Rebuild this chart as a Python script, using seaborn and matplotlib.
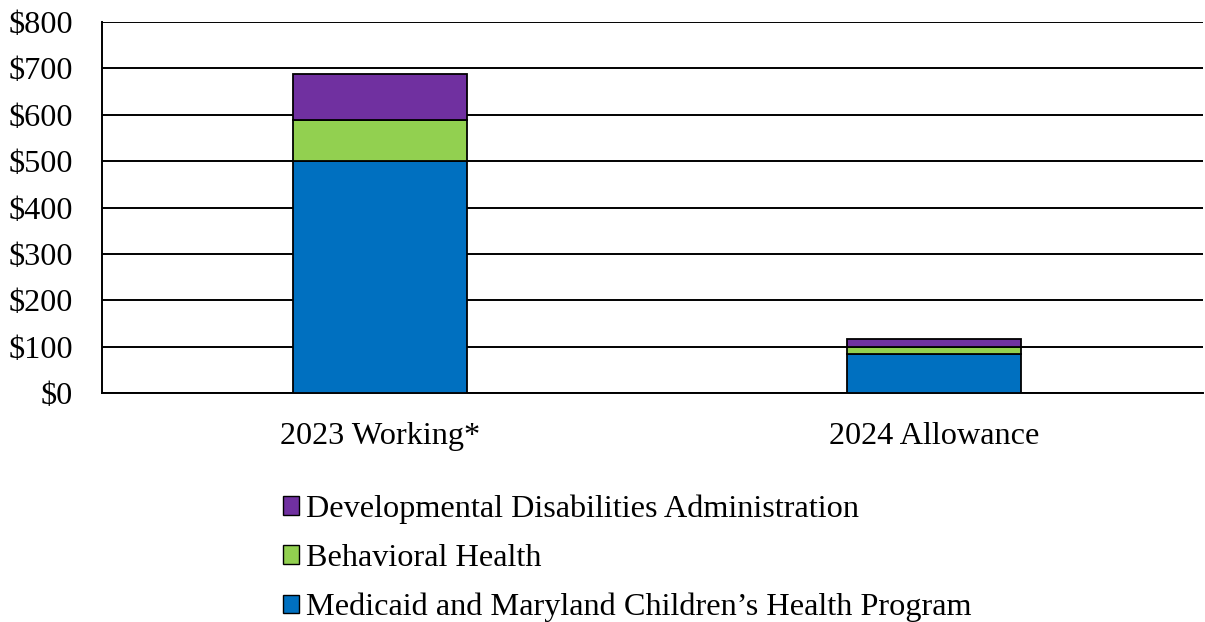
import matplotlib
matplotlib.use("Agg")
import matplotlib.pyplot as plt
import seaborn as sns
import pandas as pd
from matplotlib.patches import Patch
from matplotlib.ticker import FuncFormatter

# Spending by program ($ millions)
categories = ["2023 Working*", "2024 Allowance"]
medicaid = [501, 84]
behavioral = [88, 16]
developmental = [99, 18]
series_labels = [
    "Developmental Disabilities Administration",
    "Behavioral Health",
    "Medicaid and Maryland Children\u2019s Health Program",
]
y_ticks = [0, 100, 200, 300, 400, 500, 600, 700, 800]

colors = {"dda": "#7030A0", "bh": "#92D050", "mchp": "#0070C0"}

sns.set_theme(style="white")
plt.rcParams["font.family"] = ["Liberation Serif", "DejaVu Serif"]
plt.rcParams["text.color"] = "black"
FS = 23.2

df = pd.DataFrame({
    "category": categories,
    "medicaid": medicaid,
    "behavioral": behavioral,
    "developmental": developmental,
})

fig = plt.figure(figsize=(12.05, 6.22), dpi=100)
ax = fig.add_axes([102 / 1205, 1 - 393.3 / 622, (1203 - 102) / 1205, (393.3 - 22) / 622])

# Stack segments bottom-up
bottom = [0] * len(categories)
for col, key in [("medicaid", "mchp"), ("behavioral", "bh"), ("developmental", "dda")]:
    sns.barplot(data=df, x="category", y=col, bottom=bottom, color=colors[key],
                saturation=1, width=0.314, edgecolor="black", linewidth=1.3,
                ax=ax, zorder=3)
    bottom = [b + v for b, v in zip(bottom, df[col])]

ax.set_ylim(0, 800)
ax.set_yticks(y_ticks)
ax.yaxis.set_major_formatter(FuncFormatter(lambda v, p: f"${v:,.0f}"))
ax.set_xlim(-0.502, 1.486)
ax.set_xlabel("")
ax.set_ylabel("")
ax.grid(axis="y", color="black", linewidth=1.4, zorder=0)
ax.set_axisbelow(True)
for s in ["top", "right"]:
    ax.spines[s].set_visible(False)
ax.spines["left"].set_color("black")
ax.spines["left"].set_linewidth(1.4)
ax.spines["bottom"].set_color("black")
ax.spines["bottom"].set_linewidth(1.4)
ax.tick_params(axis="both", length=0, labelsize=FS, colors="black")
ax.tick_params(axis="y", pad=21)
ax.tick_params(axis="x", pad=21)

handles = [
    Patch(facecolor=colors["dda"], edgecolor="black", linewidth=1.0),
    Patch(facecolor=colors["bh"], edgecolor="black", linewidth=1.0),
    Patch(facecolor=colors["mchp"], edgecolor="black", linewidth=1.0),
]
leg = fig.legend(handles, series_labels, loc="upper left",
                 bbox_to_anchor=(283 / 1205, 1 - 494.5 / 622), frameon=False,
                 fontsize=FS, handlelength=0.5, handleheight=0.5, handletextpad=0.2,
                 labelspacing=0.62, borderaxespad=0, borderpad=0)
for t in leg.get_texts():
    t.set_color("black")

fig.savefig("out.png", dpi=100)
